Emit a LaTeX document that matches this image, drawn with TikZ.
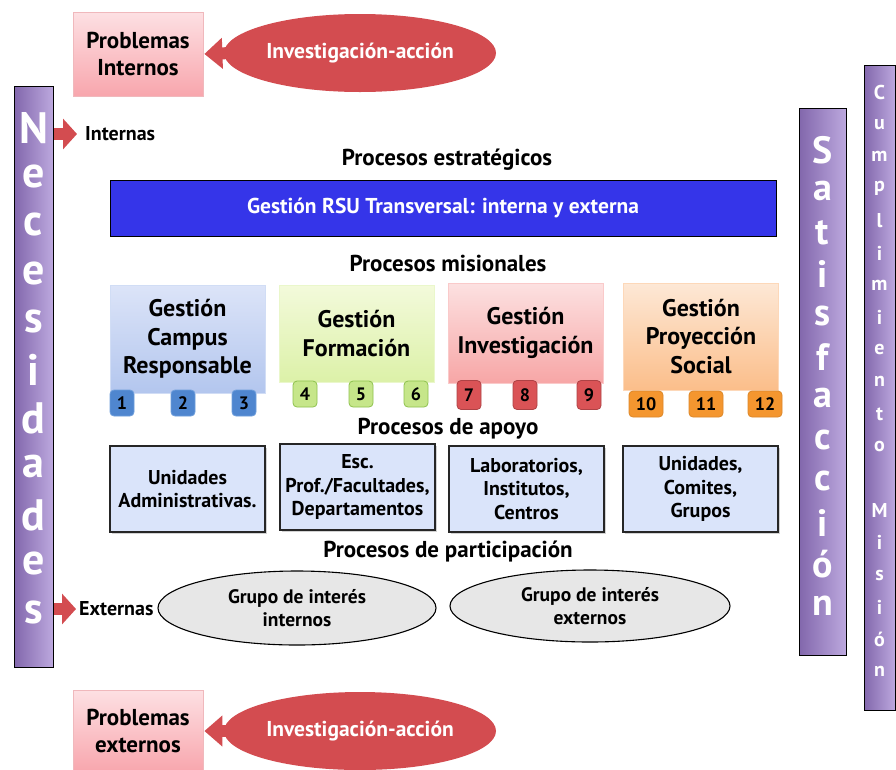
\documentclass[tikz,border=0pt]{standalone}
\usepackage{fontspec}
\setmainfont{PT Sans}
\usetikzlibrary{shapes.geometric,arrows.meta,shadings,shadows}
\definecolor{pinkA}{HTML}{FDE0E3}
\definecolor{pinkB}{HTML}{F8A6AD}
\definecolor{pinkE}{HTML}{F0B8BC}
\definecolor{redE}{HTML}{D34C50}
\definecolor{purL}{HTML}{8267AC}
\definecolor{purR}{HTML}{BCA8DE}
\definecolor{rsublue}{HTML}{3535E9}
\definecolor{bluA}{HTML}{DCE4F8}
\definecolor{bluB}{HTML}{B3C6EE}
\definecolor{bluN}{HTML}{4F86CF}
\definecolor{bluNB}{HTML}{6E9EDC}
\definecolor{grnA}{HTML}{F3FADB}
\definecolor{grnB}{HTML}{DCF1A8}
\definecolor{grnN}{HTML}{C6E68A}
\definecolor{grnNB}{HTML}{8EC24E}
\definecolor{rdA}{HTML}{FCE1E1}
\definecolor{rdB}{HTML}{F7A6A6}
\definecolor{rdN}{HTML}{DA5356}
\definecolor{orA}{HTML}{FDE8D6}
\definecolor{orB}{HTML}{FBBE8A}
\definecolor{orN}{HTML}{F4962F}
\definecolor{supF}{HTML}{DAE4FA}
\definecolor{partF}{HTML}{E7E7E7}
\tikzset{
  fs/.style={font={\pgfmathsetmacro\lsk{#1*1.18}\fontsize{#1}{\lsk}\selectfont\bfseries}},
  probbox/.style={draw=pinkE, line width=0.8pt, top color=pinkA, bottom color=pinkB,
    minimum width=130pt, minimum height=84pt, align=center, fs=23, inner sep=0pt},
  iaell/.style={ellipse, fill=redE, minimum width=272pt, minimum height=78pt,
    text=white, fs=21.5, inner sep=0pt},
  iaarrow/.style={draw=redE, line width=12pt, -{Triangle[width=30pt,length=18pt]}, shorten >=1pt},
  bar/.style={draw=black, line width=1pt, left color=purL, right color=purR, inner sep=0pt},
  barletter/.style={text=white, font=\fontsize{#1}{#1}\selectfont\bfseries, inner sep=0pt},
  sidearrow/.style={draw=redE, line width=12pt, -{Triangle[width=30pt,length=14pt]}},
  sidelabel/.style={fs=20, inner sep=0pt, anchor=west},
  heading/.style={fs=23, inner sep=0pt},
  misbox/.style={minimum width=155pt, align=center, fs=24, inner sep=0pt, draw=#1!60!white, line width=0.4pt},
  numbox/.style={rounded corners=4pt, minimum width=24pt, minimum height=26pt, inner sep=0pt, fs=18, line width=0.8pt},
  supbox/.style={draw=black!85, line width=1.3pt, fill=supF, minimum width=155pt, minimum height=86pt,
    align=center, fs=20, inner sep=0pt, drop shadow={shadow xshift=1.5pt, shadow yshift=-1.5pt, fill=black!35}},
  partell/.style={ellipse, draw=black, line width=1.1pt, fill=partF, align=center, fs=19.5, inner sep=0pt},
}
\begin{document}
\begin{tikzpicture}[x=1pt,y=-1pt]
\useasboundingbox (0,0) rectangle (896,769);
\fill[white] (0,0) rectangle (896,769);

% top problems
\node[probbox] (pi) at (138,54) {Problemas\\Internos};
\node[iaell] (iai) at (360,53) {Investigación-acción};
\draw[iaarrow] (iai.west) ++(8,0) coordinate (iaiw) (iaiw) -- (pi.east);

% bottom problems
\node[probbox, minimum height=82pt] (pe) at (138,731) {Problemas\\externos};
\node[iaell] (iae) at (360,731) {Investigación-acción};
\draw[iaarrow] (iae.west) ++(8,0) coordinate (iaew) (iaew) -- (pe.east);

% Necesidades bar
\node[bar, minimum width=39pt, minimum height=581pt] (nec) at (33.5,376.5) {};
\foreach \l [count=\i from 0] in {N,e,c,e,s,i,d,a,d,e,s}
  \node[barletter=44] (nl\i) at (33.5,128+48.4*\i) {\l};

% Satisfaccion bar
\node[bar, minimum width=47pt, minimum height=547pt] (sat) at (822.5,381.5) {};
\foreach \l [count=\i from 0] in {S,a,t,i,s,f,a,c,c,i,ó,n}
  \node[barletter=38] (sl\i) at (822.5,150+41.4*\i) {\l};

% Cumplimiento bar
\node[bar, minimum width=31pt, minimum height=645pt] (cum) at (879.5,387.5) {};
\foreach \l [count=\i from 0] in {C,u,m,p,l,i,m,i,e,n,t,o,{},M,i,s,i,ó,n}
  \node[barletter=20] (cl\i) at (879.5,92+32.2*\i) {\l};

% side arrows
\node[sidelabel] (int) at (85,134) {Internas};
\draw[sidearrow] (nec.east |- int.west) -- ([xshift=-8pt]int.west);
\node[sidelabel] (ext) at (79,609) {Externas};
\draw[sidearrow] (nec.east |- ext.west) -- ([xshift=-3pt]ext.west);

% headings
\node[heading] (h1) at (447,160) {Procesos estratégicos};
\node[draw=black, line width=1pt, fill=rsublue, minimum width=666pt, minimum height=56pt,
      text=white, fs=21.5, inner sep=0pt, drop shadow={shadow xshift=1pt, shadow yshift=-1pt, fill=black!30}] (rsu) at (443,208) {Gestión RSU Transversal: interna y externa};
\node[heading] (h2) at (448,263) {Procesos misionales};

% mission boxes
\node[misbox=bluB, top color=bluA, bottom color=bluB, minimum height=108pt] (m1) at (187.5,339) {Gestión\\Campus\\Responsable};
\node[misbox=grnB, top color=grnA, bottom color=grnB, minimum height=97pt] (m2) at (356.5,333.5) {Gestión\\Formación};
\node[misbox=rdB, top color=rdA, bottom color=rdB, minimum height=100pt] (m3) at (525.5,333) {Gestión\\Investigación};
\node[misbox=orB, top color=orA, bottom color=orB, minimum height=107pt] (m4) at (701,336.5) {Gestión\\Proyección\\Social};

\foreach \n/\x in {1/122,2/183,3/244}
  \node[numbox, fill=bluN, draw=bluNB] (n\n) at (\x,403) {\n};
\foreach \n/\x in {4/305,5/361,6/416}
  \node[numbox, fill=grnN, draw=grnNB] (n\n) at (\x,394) {\n};
\foreach \n/\x in {7/469,8/525,9/589}
  \node[numbox, fill=rdN, draw=rdN!80!black, minimum height=29pt] (n\n) at (\x,395) {\n};
\foreach \n/\x in {10/646,11/706,12/765}
  \node[numbox, fill=orN, draw=orN!90!black, minimum width=34pt] (n\n) at (\x,404) {\n};

\node[heading] (h3) at (448,429) {Procesos de apoyo};

% support boxes
\node[supbox] (s1) at (187.5,489) {Unidades\\Administrativas.};
\node[supbox] (s2) at (357.5,487) {Esc.\\Prof./Facultades,\\Departamentos};
\node[supbox] (s3) at (526.5,489) {Laboratorios,\\Institutos,\\Centros};
\node[supbox] (s4) at (700.5,489) {Unidades,\\Comites,\\Grupos};

\node[heading] (h4) at (448,552) {Procesos de participación};

% participation ellipses
\node[partell, minimum width=278pt, minimum height=74pt] (p1) at (297,608) {Grupo de interés\\internos};
\node[partell, minimum width=280pt, minimum height=72pt] (p2) at (590,606) {Grupo de interés\\externos};
\end{tikzpicture}
\end{document}
